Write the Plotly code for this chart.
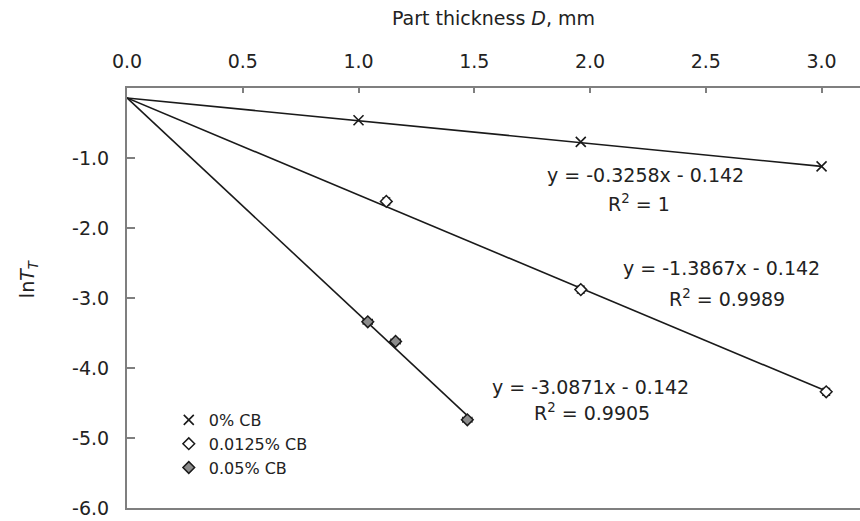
import numpy as np
import plotly.graph_objects as go

# Measured ln(T_T) against part thickness for three carbon-black loadings
series_names = ["0% CB", "0.0125% CB", "0.05% CB"]
thickness_0 = [1.00, 1.96, 3.00]
lnT_0 = [-0.46, -0.77, -1.12]
thickness_0125 = [1.12, 1.96, 3.02]
lnT_0125 = [-1.62, -2.88, -4.34]
thickness_05 = [1.04, 1.16, 1.47]
lnT_05 = [-3.34, -3.62, -4.74]

# Linear fits y = slope * x + intercept
slopes = [-0.3258, -1.3867, -3.0871]
intercept = -0.142
r_squared = ["1", "0.9989", "0.9905"]

x_ticks = [0.0, 0.5, 1.0, 1.5, 2.0, 2.5, 3.0]
x_tick_text = ["0.0", "0.5", "1.0", "1.5", "2.0", "2.5", "3.0"]
y_ticks = [-1, -2, -3, -4, -5, -6]
y_tick_text = ["-1.0", "-2.0", "-3.0", "-4.0", "-5.0", "-6.0"]

FONT = "DejaVu Sans"
TXT = "#222222"
AX = "#7f7f7f"
INK = "#1a1a1a"

fig = go.Figure()

xs = [thickness_0, thickness_0125, thickness_05]

# fitted trend lines, drawn from the origin to the last measured thickness
for x, s in zip(xs, slopes):
    xl = np.array([0.0, max(x)])
    fig.add_trace(go.Scatter(
        x=xl, y=s * xl + intercept, mode="lines",
        line=dict(color=INK, width=1.6),
        showlegend=False, hoverinfo="skip"))

fig.add_trace(go.Scatter(
    x=thickness_0, y=lnT_0, mode="markers", name=series_names[0],
    marker=dict(symbol="x-thin-open", size=10, color=INK,
                line=dict(color=INK, width=1.6))))
fig.add_trace(go.Scatter(
    x=thickness_0125, y=lnT_0125, mode="markers", name=series_names[1],
    marker=dict(symbol="diamond", size=9, color="white",
                line=dict(color=INK, width=1.5)),
    error_y=dict(type="constant", value=0.05, width=4,
                 color=INK, thickness=1.2)))
fig.add_trace(go.Scatter(
    x=thickness_05, y=lnT_05, mode="markers", name=series_names[2],
    marker=dict(symbol="diamond", size=9, color="#8c8c8c",
                line=dict(color=INK, width=1.5)),
    error_x=dict(type="constant", value=0.02, width=3,
                 color=INK, thickness=1.2)))

# regression equations and R^2 labels
eq_pos = [(2.238, -1.243, 2.212, -1.643),
          (2.566, -2.571, 2.592, -3.000),
          (2.000, -4.271, 2.009, -4.629)]
annotations = []
for s, r2, (ex, ey, rx, ry) in zip(slopes, r_squared, eq_pos):
    annotations.append(dict(x=ex, y=ey, xref="x", yref="y", showarrow=False,
                            xanchor="center", yanchor="middle",
                            text=f"y = {s:.4f}x - {abs(intercept):.3f}",
                            font=dict(family=FONT, size=19, color=TXT)))
    annotations.append(dict(x=rx, y=ry, xref="x", yref="y", showarrow=False,
                            xanchor="center", yanchor="middle",
                            text=f"R<sup>2</sup> = {r2}",
                            font=dict(family=FONT, size=19, color=TXT)))

# axis titles
annotations.append(dict(x=0.5, y=1.1667, xref="paper", yref="paper",
                        xanchor="center", yanchor="middle",
                        showarrow=False, text="Part thickness <i>D</i>, mm",
                        font=dict(family=FONT, size=19, color=TXT)))
annotations.append(dict(x=-0.135, y=0.545, xref="paper", yref="paper",
                        xanchor="center", yanchor="middle",
                        showarrow=False, textangle=-90,
                        text="ln<i>T</i><sub><i>T</i></sub>",
                        font=dict(family=FONT, size=19, color=TXT)))

fig.update_layout(
    width=860, height=521,
    margin=dict(l=127, r=0, t=88, b=13, autoexpand=False),
    paper_bgcolor="white", plot_bgcolor="white",
    font=dict(family=FONT, size=19, color=TXT),
    annotations=annotations,
    showlegend=True,
    legend=dict(x=0.057, y=0.25, xanchor="left", yanchor="top",
                bgcolor="rgba(0,0,0,0)", borderwidth=0,
                font=dict(family=FONT, size=16, color=TXT),
                itemwidth=30, tracegroupgap=0),
    xaxis=dict(side="top", range=[0, 3.166], tickvals=x_ticks,
               ticktext=x_tick_text, ticks="inside", ticklen=5,
               tickcolor=AX, tickwidth=1.5, showline=True, linecolor=AX,
               linewidth=2, mirror=True, showgrid=False, zeroline=False,
               automargin=False, ticklabelstandoff=10,
               tickfont=dict(family=FONT, size=19, color=TXT)),
    yaxis=dict(range=[-6, 0], tickvals=y_ticks, ticktext=y_tick_text,
               ticks="inside", ticklen=8, tickcolor=AX, tickwidth=1.5,
               showline=True, linecolor=AX, linewidth=2, showgrid=False,
               zeroline=False, ticklabelstandoff=12, automargin=False,
               tickfont=dict(family=FONT, size=19, color=TXT)),
)

fig.write_html("out.html")
